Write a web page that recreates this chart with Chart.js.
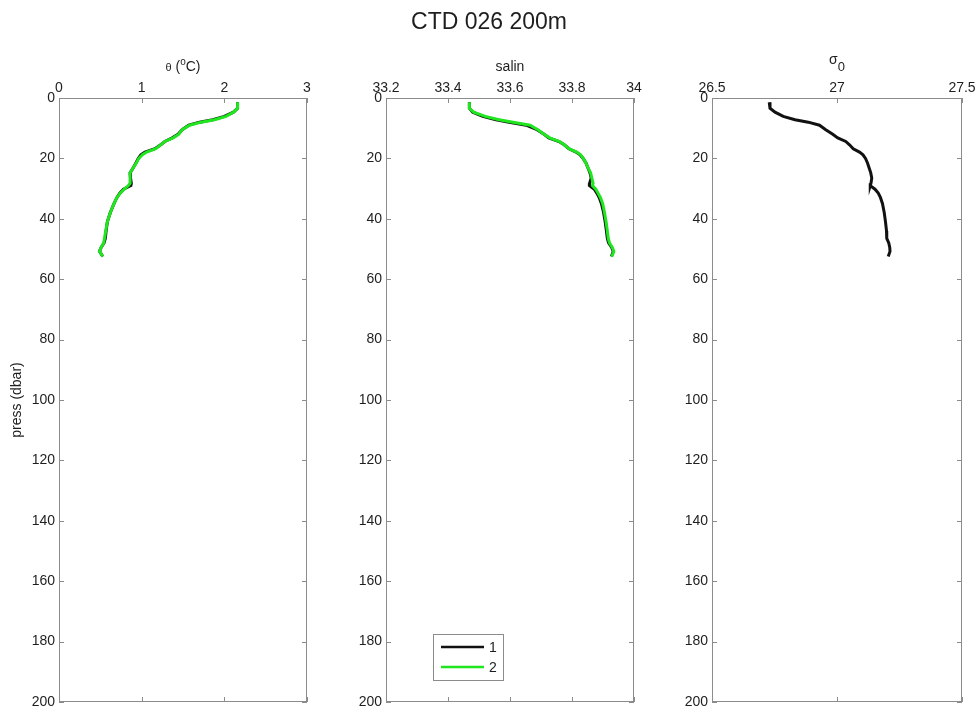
<!DOCTYPE html>
<html>
<head>
<meta charset="utf-8">
<title>CTD 026 200m</title>
<script src="https://cdn.jsdelivr.net/npm/chart.js@4.4.1/dist/chart.umd.min.js"></script>
<style>
    html, body { margin: 0; padding: 0; background: #fff; }
    #wrap { position: relative; width: 979px; height: 713px; }
    #wrap canvas { position: absolute; left: 0; top: 0; }
</style>
</head>
<body>
<div id="wrap">
    <canvas id="thetaChart" width="979" height="713"></canvas>
    <canvas id="salinChart" width="979" height="713"></canvas>
    <canvas id="sigmaChart" width="979" height="713"></canvas>
</div>
<script>
// pressure levels of the cast (dbar)
const press = [1.4, 3.4, 4.7, 6.1, 7.2, 8.0, 9.0, 10.5, 12.0, 13.2, 14.4, 15.5, 16.8, 17.9, 18.8, 20.0, 21.5,
    23.0, 24.8, 26.5, 28.2, 29.0, 30.2, 31.5, 33.0, 35.0, 38.0, 41.0, 44.0, 46.5, 48.0, 49.5, 50.8, 52.5];

// potential temperature, sensor 1 and 2
const theta1 = [2.16, 2.16, 2.11, 2.00, 1.86, 1.70, 1.57, 1.49, 1.44, 1.37, 1.28, 1.23, 1.16, 1.04, 0.99, 0.96, 0.93,
    0.90, 0.86, 0.865, 0.875, 0.87, 0.78, 0.735, 0.70, 0.665, 0.62, 0.585, 0.57, 0.56, 0.545, 0.51, 0.49, 0.53];
const theta2 = [2.16, 2.16, 2.11, 2.02, 1.88, 1.72, 1.58, 1.49, 1.45, 1.38, 1.28, 1.23, 1.17, 1.06, 1.01, 0.965, 0.935,
    0.90, 0.86, 0.86, 0.86, 0.84, 0.79, 0.74, 0.70, 0.665, 0.62, 0.585, 0.565, 0.55, 0.54, 0.51, 0.49, 0.53];

// salinity, sensor 1 and 2
const salin1 = [33.469, 33.469, 33.480, 33.512, 33.555, 33.597, 33.652, 33.687, 33.710, 33.725, 33.758, 33.775,
    33.790, 33.813, 33.826, 33.836, 33.845, 33.851, 33.858, 33.862, 33.857, 33.856, 33.872, 33.880, 33.888, 33.895,
    33.902, 33.907, 33.911, 33.914, 33.918, 33.928, 33.933, 33.927];
const salin2 = [33.469, 33.469, 33.483, 33.520, 33.565, 33.610, 33.665, 33.690, 33.710, 33.728, 33.760, 33.775,
    33.790, 33.815, 33.828, 33.836, 33.845, 33.851, 33.860, 33.864, 33.868, 33.866, 33.877, 33.884, 33.892, 33.899,
    33.905, 33.910, 33.914, 33.917, 33.921, 33.930, 33.935, 33.928];

// potential density anomaly
const sigma1 = [26.729, 26.732, 26.752, 26.785, 26.832, 26.885, 26.930, 26.955, 26.983, 27.003, 27.035, 27.050,
    27.065, 27.090, 27.104, 27.114, 27.122, 27.128, 27.135, 27.139, 27.136, 27.133, 27.152, 27.165, 27.174, 27.182,
    27.189, 27.194, 27.198, 27.199, 27.207, 27.211, 27.212, 27.205];

// axis ticks
const pressTicks = [0, 20, 40, 60, 80, 100, 120, 140, 160, 180, 200];
const thetaTicks = [0, 1, 2, 3];
const salinTicks = [33.2, 33.4, 33.6, 33.8, 34];
const sigmaTicks = [26.5, 27, 27.5];

const FONT = '"Liberation Sans", Arial, Helvetica, sans-serif';
const TEXT = '#1e1e1e';
const AXIS = '#8c8c8c';
const BLACK = '#111111';
const GREEN = '#1fe61f';

Chart.defaults.font.family = FONT;
Chart.defaults.color = TEXT;

function profile(values) {
    return values.map((v, i) => ({x: v, y: press[i]}));
}

// box round the plot area with inward ticks on all four sides
const boxTicks = {
    id: 'boxTicks',
    beforeDatasetsDraw(chart) {
        const {ctx, chartArea: a, scales: {x, y}} = chart;
        ctx.save();
        ctx.strokeStyle = AXIS;
        ctx.lineWidth = 1;
        ctx.strokeRect(a.left + 0.5, a.top + 0.5, a.width - 1, a.height - 1);
        ctx.beginPath();
        x.ticks.forEach(t => {
            const px = Math.round(x.getPixelForValue(t.value)) + 0.5;
            ctx.moveTo(px, a.top);
            ctx.lineTo(px, a.top + 5);
            ctx.moveTo(px, a.bottom);
            ctx.lineTo(px, a.bottom - 5);
        });
        y.ticks.forEach(t => {
            const py = Math.round(y.getPixelForValue(t.value)) + 0.5;
            ctx.moveTo(a.left, py);
            ctx.lineTo(a.left + 5, py);
            ctx.moveTo(a.right, py);
            ctx.lineTo(a.right - 5, py);
        });
        ctx.stroke();
        ctx.restore();
    }
};

// x axis label with super/subscripts, centred over the plot
const richLabel = {
    id: 'richLabel',
    afterDraw(chart, args, opts) {
        if (!opts.parts) return;
        const {ctx, chartArea: a} = chart;
        ctx.save();
        ctx.fillStyle = TEXT;
        ctx.textBaseline = 'alphabetic';
        const widths = opts.parts.map(p => {
            ctx.font = p.size + 'px ' + FONT;
            return ctx.measureText(p.t).width;
        });
        let x = (a.left + a.right) / 2 - widths.reduce((s, w) => s + w, 0) / 2;
        const base = a.top - 27;
        opts.parts.forEach((p, i) => {
            ctx.font = p.size + 'px ' + FONT;
            ctx.fillText(p.t, x, base + (p.dy || 0));
            x += widths[i];
        });
        ctx.restore();
    }
};

// small boxed key in the lower left of the plot
const lineKey = {
    id: 'lineKey',
    afterDatasetsDraw(chart, args, opts) {
        if (!opts.display) return;
        const {ctx, chartArea: a} = chart;
        const bx = a.left + 47, by = a.bottom - 68, bw = 70, bh = 46;
        ctx.save();
        ctx.fillStyle = '#fff';
        ctx.fillRect(bx, by, bw, bh);
        ctx.strokeStyle = AXIS;
        ctx.lineWidth = 1;
        ctx.strokeRect(bx + 0.5, by + 0.5, bw, bh);
        ctx.font = '14px ' + FONT;
        ctx.textBaseline = 'middle';
        chart.data.datasets.forEach((ds, i) => {
            const ly = by + 13 + i * 20;
            ctx.strokeStyle = ds.borderColor;
            ctx.lineWidth = 2.5;
            ctx.beginPath();
            ctx.moveTo(bx + 8, ly);
            ctx.lineTo(bx + 51, ly);
            ctx.stroke();
            ctx.fillStyle = TEXT;
            ctx.fillText(ds.label, bx + 56, ly + 1);
        });
        ctx.restore();
    }
};

function makeProfile(id, cfg) {
    return new Chart(document.getElementById(id), {
        type: 'scatter',
        data: {datasets: cfg.datasets},
        plugins: [boxTicks, lineKey, richLabel],
        options: {
            responsive: false,
            animation: false,
            events: [],
            layout: {
                padding: {left: cfg.left - cfg.yWidth, right: 979 - cfg.right, top: cfg.title ? 0 : 58, bottom: 7}
            },
            elements: {point: {radius: 0}, line: {borderWidth: 3, tension: 0}},
            scales: {
                x: {
                    type: 'linear', position: 'top', min: cfg.min, max: cfg.max,
                    afterBuildTicks: s => { s.ticks = cfg.ticks.map(v => ({value: v})); },
                    afterFit: s => { s.height = 40; },
                    grid: {display: false, drawTicks: false},
                    border: {display: false},
                    ticks: {
                        padding: 3, maxRotation: 0, autoSkip: false,
                        font: {size: 14, lineHeight: 1},
                        callback: v => String(+v.toFixed(1))
                    }
                },
                y: {
                    type: 'linear', position: 'left', reverse: true, min: 0, max: 200,
                    afterBuildTicks: s => { s.ticks = pressTicks.map(v => ({value: v})); },
                    afterFit: s => { s.width = cfg.yWidth; },
                    grid: {display: false, drawTicks: false},
                    border: {display: false},
                    ticks: {padding: 4, autoSkip: false, font: {size: 14, lineHeight: 1}},
                    title: {
                        display: !!cfg.yTitle, text: cfg.yTitle || '',
                        font: {size: 14, lineHeight: 1.2}, padding: {top: 9, bottom: 0}
                    }
                }
            },
            plugins: {
                legend: {display: false},
                tooltip: {enabled: false},
                title: {
                    display: !!cfg.title, text: cfg.title || '', color: TEXT,
                    font: {size: 23, weight: 'normal', lineHeight: 1.2},
                    padding: {top: 9, bottom: 21.4}
                },
                lineKey: {display: !!cfg.key},
                richLabel: {parts: cfg.xLabel}
            }
        }
    });
}

makeProfile('thetaChart', {
    left: 59, right: 307, yWidth: 59, min: 0, max: 3, ticks: thetaTicks,
    xLabel: [{t: 'θ', size: 11}, {t: ' (', size: 14}, {t: 'o', size: 10, dy: -6}, {t: 'C)', size: 14}],
    yTitle: 'press (dbar)',
    datasets: [
        {label: '1', data: profile(theta1), showLine: true, borderColor: BLACK, order: 1},
        {label: '2', data: profile(theta2), showLine: true, borderColor: GREEN, order: 0}
    ]
});

makeProfile('salinChart', {
    left: 386, right: 634, yWidth: 42, min: 33.2, max: 34, ticks: salinTicks,
    xLabel: [{t: 'salin', size: 14}], title: 'CTD 026 200m', key: true,
    datasets: [
        {label: '1', data: profile(salin1), showLine: true, borderColor: BLACK, order: 1},
        {label: '2', data: profile(salin2), showLine: true, borderColor: GREEN, order: 0}
    ]
});

makeProfile('sigmaChart', {
    left: 712, right: 962, yWidth: 50, min: 26.5, max: 27.5, ticks: sigmaTicks,
    xLabel: [{t: 'σ', size: 14, dy: -7}, {t: '0', size: 13}],
    datasets: [
        {label: '1', data: profile(sigma1), showLine: true, borderColor: BLACK}
    ]
});
</script>
</body>
</html>
